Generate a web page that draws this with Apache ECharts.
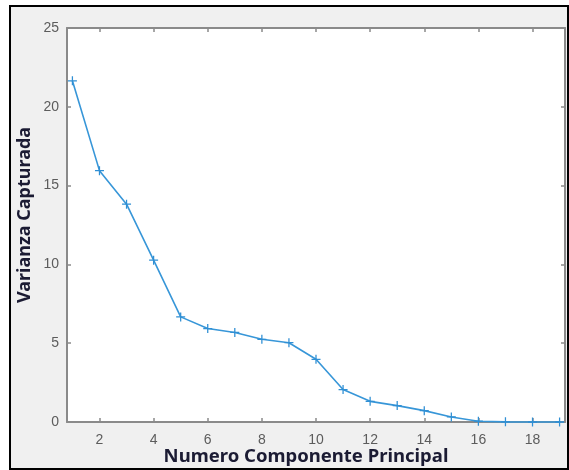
<!DOCTYPE html>
<html>
<head>
<meta charset="utf-8">
<script src="https://cdn.jsdelivr.net/npm/echarts@6/dist/echarts.min.js"></script>
<style>
  html, body { margin: 0; padding: 0; background: #ffffff; }
  #wrap { position: relative; width: 569px; height: 470px; overflow: hidden; }
  #frame { position: absolute; left: 9px; top: 5px; width: 556px; height: 461px;
           border: 2px solid #000; background: #f0f0f0; }
  #chart { position: absolute; left: 0; top: 0; width: 569px; height: 470px; }
</style>
</head>
<body>
<div id="wrap">
  <div id="frame"></div>
  <div id="chart"></div>
</div>
<script>
// Principal component index and the variance captured by each component
const componentes = [1, 2, 3, 4, 5, 6, 7, 8, 9, 10, 11, 12, 13, 14, 15, 16, 17, 18, 19];
const varianza = [21.65, 15.95, 13.82, 10.27, 6.67, 5.93, 5.68, 5.25, 5.03, 3.98,
                  2.06, 1.31, 1.04, 0.72, 0.32, 0.05, 0.01, 0.0, 0.0];
const xTicks = [2, 4, 6, 8, 10, 12, 14, 16, 18];
const yTicks = [0, 5, 10, 15, 20, 25];

const axisGray = '#8a8a8a';
const tickFont = { color: '#5c5c5c', fontSize: 14, fontFamily: 'Liberation Sans, Arial, sans-serif' };
const titleFont = { fill: '#1b1b33', fontWeight: 'bold', fontFamily: 'Noto Sans, sans-serif' };
const plusSymbol = 'path://M4.3,0h1.4v10h-1.4z M0,4.3h10v1.4h-10z';

const chart = echarts.init(document.getElementById('chart'), null, { renderer: 'canvas' });

const xBase = {
  type: 'value', min: 0.8, max: 19.2,
  axisLine: { show: true, onZero: false, lineStyle: { color: axisGray, width: 2 } },
  axisTick: { show: true, inside: true, length: 4, customValues: xTicks, lineStyle: { color: axisGray, width: 1.5 } },
  splitLine: { show: false }
};
const yBase = {
  type: 'value', min: 0, max: 25, interval: 5,
  axisLine: { show: true, onZero: false, lineStyle: { color: axisGray, width: 2 } },
  axisTick: { show: true, inside: true, length: 4, customValues: yTicks, lineStyle: { color: axisGray, width: 1.5 } },
  splitLine: { show: false }
};

chart.setOption({
  backgroundColor: 'transparent',
  animation: false,
  grid: { left: 67, top: 28, right: 4, bottom: 48, show: true, backgroundColor: '#ffffff', borderWidth: 0 },
  xAxis: [
    Object.assign({}, xBase, { position: 'bottom',
      axisLabel: Object.assign({ customValues: xTicks, margin: 11 }, tickFont) }),
    Object.assign({}, xBase, { position: 'top', axisLabel: { show: false } })
  ],
  yAxis: [
    Object.assign({}, yBase, { position: 'left',
      axisLabel: Object.assign({ customValues: yTicks, margin: 8 }, tickFont) }),
    Object.assign({}, yBase, { position: 'right', axisLabel: { show: false } })
  ],
  graphic: [
    { type: 'text', x: 306, y: 457, z: 10,
      style: Object.assign({ text: 'Numero Componente Principal', fontSize: 18.5,
        align: 'center', verticalAlign: 'middle' }, titleFont) },
    { type: 'text', x: 25, y: 215, rotation: Math.PI / 2, z: 10,
      style: Object.assign({ text: 'Varianza Capturada', fontSize: 18,
        align: 'center', verticalAlign: 'middle' }, titleFont) }
  ],
  series: [{
    type: 'line',
    xAxisIndex: 0, yAxisIndex: 0,
    data: componentes.map((c, i) => [c, varianza[i]]),
    symbol: plusSymbol,
    symbolSize: 9,
    showSymbol: true,
    lineStyle: { color: '#3796d8', width: 1.6 },
    itemStyle: { color: '#2f8fd4' },
    clip: false
  }]
});
</script>
</body>
</html>
